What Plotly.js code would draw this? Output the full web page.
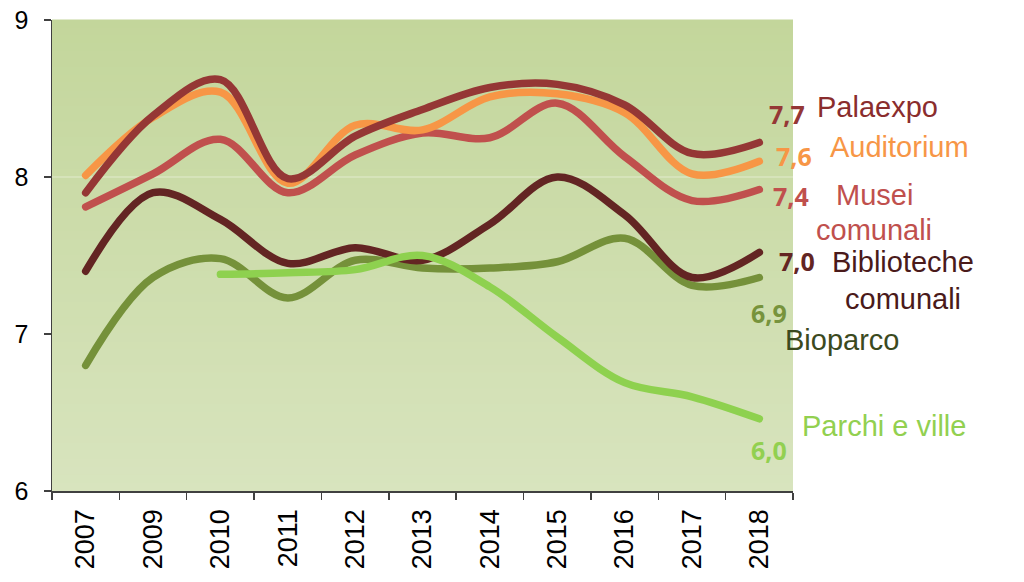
<!DOCTYPE html>
<html>
<head>
<meta charset="utf-8">
<script src="https://cdn.plot.ly/plotly-3.0.1.min.js"></script>
<style>
html,body{margin:0;padding:0;background:#fff;}
#chart{width:1024px;height:582px;}
#chart .scatterlayer path.js-line{stroke-linecap:round;stroke-linejoin:round;}
</style>
</head>
<body>
<div id="chart"></div>
<script>
// ---- data ----
var years = ['2007','2009','2010','2011','2012','2013','2014','2015','2016','2017','2018'];
var palaexpo    = [7.90, 8.39, 8.62, 7.99, 8.26, 8.43, 8.57, 8.59, 8.46, 8.15, 8.22];
var auditorium  = [8.01, 8.38, 8.54, 7.96, 8.33, 8.30, 8.51, 8.53, 8.41, 8.02, 8.10];
var musei       = [7.81, 8.02, 8.24, 7.90, 8.14, 8.28, 8.25, 8.47, 8.13, 7.85, 7.92];
var biblioteche = [7.40, 7.90, 7.73, 7.45, 7.55, 7.47, 7.70, 8.00, 7.76, 7.36, 7.52];
var bioparco    = [6.80, 7.36, 7.48, 7.23, 7.47, 7.42, 7.42, 7.46, 7.61, 7.31, 7.36];
var parchi      = [null, null, 7.38, 7.39, 7.41, 7.50, 7.30, 6.98, 6.69, 6.60, 6.46];

var seriesNames = ['Bioparco','Biblioteche comunali','Parchi e ville','Musei comunali','Auditorium','Palaexpo'];
var seriesData  = [bioparco, biblioteche, parchi, musei, auditorium, palaexpo];
var seriesColors = ['#75913A','#632523','#8ED14F','#C0504D','#F79646','#953735'];

var yTicks = [6, 7, 8, 9];

// ---- traces ----
var traces = seriesData.map(function(d, i){
  return {
    x: years, y: d, type: 'scatter', mode: 'lines', name: seriesNames[i],
    line: {color: seriesColors[i], width: 7.5, shape: 'spline', smoothing: 1},
    connectgaps: false, hoverinfo: 'skip'
  };
});

// ---- gradient background via stripes ----
var shapes = [];
var N = 60;
var gTop = [195, 214, 155], gBot = [216, 228, 190];
for (var k = 0; k < N; k++) {
  var t = (k + 0.5) / N;
  var c = gTop.map(function(v, j){ return Math.round(v + (gBot[j] - v) * t); });
  shapes.push({
    type: 'rect', xref: 'x domain', yref: 'y domain', layer: 'below',
    x0: 0, x1: 1, y0: 1 - (k + 1) / N - 0.001, y1: 1 - k / N + 0.001,
    fillcolor: 'rgb(' + c.join(',') + ')', line: {width: 0}
  });
}
shapes.push({type: 'line', xref: 'x domain', yref: 'y', layer: 'below', x0: 0, x1: 1, y0: 8, y1: 8,
  line: {color: 'rgba(255,255,255,0.45)', width: 1}});

// ---- annotations (pixel positions converted to paper) ----
var PL = 52, PR = 793, PT = 20, PB = 491;
function px(x){ return (x - PL) / (PR - PL); }
function py(y){ return (PB - y) / (PB - PT); }
var valFont = 'Open Sans, Liberation Sans, Arial, sans-serif';
var nameFont = 'Liberation Sans, Arial, sans-serif';
var labels = [
  {t:'7,7', x:767, y:114, c:'#953735', b:true},
  {t:'Palaexpo', x:815, y:107, c:'#8A2D2D'},
  {t:'7,6', x:774, y:156, c:'#F79646', b:true},
  {t:'Auditorium', x:828, y:147, c:'#F79646'},
  {t:'7,4', x:771, y:196, c:'#C0504D', b:true},
  {t:'Musei', x:874, y:195, c:'#C0504D', center:true},
  {t:'comunali', x:874, y:230, c:'#C0504D', center:true},
  {t:'7,0', x:777, y:261, c:'#632523', b:true},
  {t:'Biblioteche', x:830, y:262, c:'#4A1A1A'},
  {t:'comunali', x:903, y:299, c:'#4A1A1A', center:true},
  {t:'6,9', x:749, y:313, c:'#77933C', b:true},
  {t:'Bioparco', x:783, y:340, c:'#3B4A1E'},
  {t:'Parchi e ville', x:800, y:426, c:'#92D050'},
  {t:'6,0', x:749, y:450, c:'#92D050', b:true}
];
var annotations = labels.map(function(a){
  return {
    text: a.b ? '<b>' + a.t + '</b>' : a.t,
    xref: 'paper', yref: 'paper', x: px(a.x), y: py(a.y),
    xanchor: a.center ? 'center' : 'left', yanchor: 'middle',
    showarrow: false,
    font: a.b ? {family: valFont, size: 25, color: a.c} : {family: nameFont, size: 29, color: a.c}
  };
});

var layout = {
  width: 1024, height: 582,
  margin: {l: PL, r: 1024 - PR, t: PT, b: 582 - PB, pad: 0},
  paper_bgcolor: '#ffffff',
  plot_bgcolor: '#d0dfae',
  showlegend: false,
  xaxis: {
    type: 'category', categoryorder: 'array', categoryarray: years,
    range: [-0.5, years.length - 0.5],
    showline: true, linecolor: '#404040', linewidth: 1.5,
    ticks: 'outside', tickson: 'boundaries', ticklen: 7, tickcolor: '#404040', tickwidth: 1.5,
    tickangle: -90, showgrid: false, zeroline: false, ticklabelstandoff: 6,
    tickfont: {family: nameFont, size: 27, color: '#000'}
  },
  yaxis: {
    range: [6, 9], tickvals: yTicks, ticktext: yTicks.map(String),
    showline: true, linecolor: '#404040', linewidth: 1.5,
    ticks: 'outside', ticklen: 7, tickcolor: '#404040', tickwidth: 1.5,
    showgrid: false, zeroline: false, ticklabelstandoff: 10,
    tickfont: {family: nameFont, size: 25, color: '#000'}
  },
  shapes: shapes,
  annotations: annotations
};

Plotly.newPlot('chart', traces, layout, {displayModeBar: false, staticPlot: true});
</script>
</body>
</html>
